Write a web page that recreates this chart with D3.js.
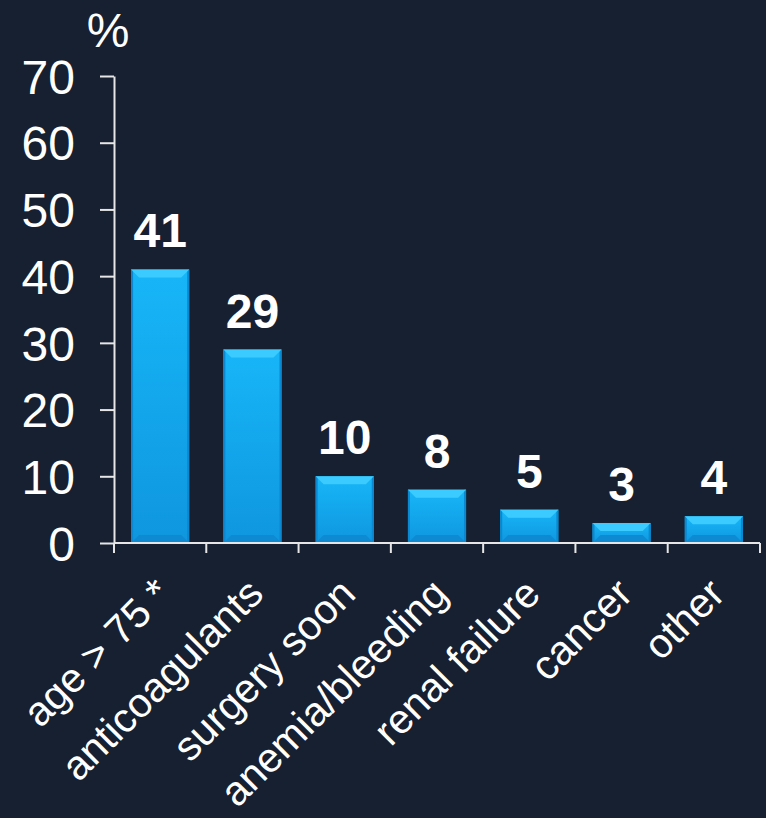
<!DOCTYPE html>
<html>
<head>
<meta charset="utf-8">
<script src="https://cdn.jsdelivr.net/npm/d3@7"></script>
<style>
  html, body { margin: 0; padding: 0; background: #172030; }
  #chart { width: 766px; height: 818px; }
  text { font-family: Arial, "Liberation Sans", sans-serif; fill: #ffffff; }
</style>
</head>
<body>
<div id="chart"></div>
<script>
// data
var categories = ["age > 75 *", "anticoagulants", "surgery soon", "anemia/bleeding", "renal failure", "cancer", "other"];
var values = [41, 29, 10, 8, 5, 3, 4];
var yTicks = [0, 10, 20, 30, 40, 50, 60, 70];

var W = 766, H = 818;
var margin = {top: 76, right: 6, bottom: 275, left: 114},
    width = W - margin.left - margin.right,
    height = H - margin.top - margin.bottom;

var svg = d3.select("#chart").append("svg")
    .attr("width", W)
    .attr("height", H);

svg.append("rect").attr("width", W).attr("height", H).attr("fill", "#172030");

var defs = svg.append("defs");
var g1 = defs.append("linearGradient").attr("id", "body").attr("x1", 0).attr("y1", 0).attr("x2", 0).attr("y2", 1);
g1.append("stop").attr("offset", "0%").attr("stop-color", "#17b6f8");
g1.append("stop").attr("offset", "100%").attr("stop-color", "#0f96de");

var g = svg.append("g").attr("transform", "translate(" + margin.left + "," + margin.top + ")");

var x = d3.scaleBand().domain(categories).range([0, width]).paddingInner(0.37).paddingOuter(0.185);
var y = d3.scaleLinear().domain([0, 70]).range([height, 0]);

// bars
var bev = 8;
var bars = g.selectAll(".bar").data(values).enter().append("g").attr("class", "bar");

bars.append("rect")
    .attr("x", function(d, i) { return x(categories[i]); })
    .attr("y", function(d) { return y(d); })
    .attr("width", x.bandwidth())
    .attr("height", function(d) { return height - y(d); })
    .attr("fill", "url(#body)");

// darker side/bottom edges
bars.append("rect")
    .attr("x", function(d, i) { return x(categories[i]); })
    .attr("y", function(d) { return y(d); })
    .attr("width", 2)
    .attr("height", function(d) { return height - y(d); })
    .attr("fill", "#0b88cf");
bars.append("rect")
    .attr("x", function(d, i) { return x(categories[i]) + x.bandwidth() - 2; })
    .attr("y", function(d) { return y(d); })
    .attr("width", 2)
    .attr("height", function(d) { return height - y(d); })
    .attr("fill", "#0b88cf");
bars.append("path")
    .attr("d", function(d, i) {
      var x0 = x(categories[i]), x1 = x0 + x.bandwidth(), b = height, b2 = height - Math.min(bev, (height - y(d)) / 2);
      return "M" + x0 + "," + b + "L" + (x0 + bev) + "," + b2 + "L" + (x1 - bev) + "," + b2 + "L" + x1 + "," + b + "Z";
    })
    .attr("fill", "#0d8ad2");

// light top bevel
bars.append("path")
    .attr("d", function(d, i) {
      var x0 = x(categories[i]), x1 = x0 + x.bandwidth(), t = y(d), t2 = y(d) + Math.min(bev, (height - y(d)) / 2);
      return "M" + x0 + "," + t + "L" + x1 + "," + t + "L" + (x1 - bev) + "," + t2 + "L" + (x0 + bev) + "," + t2 + "Z";
    })
    .attr("fill", "#3ccbff");

// value labels
g.selectAll(".val").data(values).enter().append("text")
    .attr("class", "val")
    .attr("x", function(d, i) { return x(categories[i]) + x.bandwidth() / 2; })
    .attr("y", function(d) { return y(d) - 22; })
    .attr("text-anchor", "middle")
    .style("font-size", "48px")
    .style("font-weight", "bold")
    .text(function(d) { return d; });

// y axis
var yAxis = g.append("g")
    .call(d3.axisLeft(y).tickValues(yTicks).tickSize(14).tickPadding(25).tickSizeOuter(0));
yAxis.selectAll("line").attr("stroke", "#e6e6e6").attr("stroke-width", 2);
yAxis.select(".domain").attr("stroke", "#e6e6e6").attr("stroke-width", 2);
yAxis.selectAll("text").style("font-size", "48px").attr("fill", "#fff").attr("dy", "0.36em");

// x axis with ticks at band boundaries
var xAxis = g.append("g").attr("transform", "translate(0," + height + ")");
xAxis.append("line").attr("x1", 0).attr("x2", width).attr("stroke", "#e6e6e6").attr("stroke-width", 2);
var step = x.step();
var bounds = d3.range(categories.length + 1).map(function(i) { return x(categories[0]) - x.paddingOuter() * step + i * step; });
xAxis.selectAll(".tk").data(bounds).enter().append("line")
    .attr("x1", function(d) { return d; }).attr("x2", function(d) { return d; })
    .attr("y1", 0).attr("y2", 10)
    .attr("stroke", "#e6e6e6").attr("stroke-width", 2);

xAxis.selectAll(".lbl").data(categories).enter().append("text")
    .attr("transform", function(d) {
      return "translate(" + (x(d) + x.bandwidth() / 2 + 13) + ",53) rotate(-45)";
    })
    .attr("text-anchor", "end")
    .style("font-size", "41px")
    .text(function(d) { return d; });

// unit label
svg.append("text")
    .attr("x", 108).attr("y", 47)
    .attr("text-anchor", "middle")
    .style("font-size", "48px")
    .text("%");
</script>
</body>
</html>
